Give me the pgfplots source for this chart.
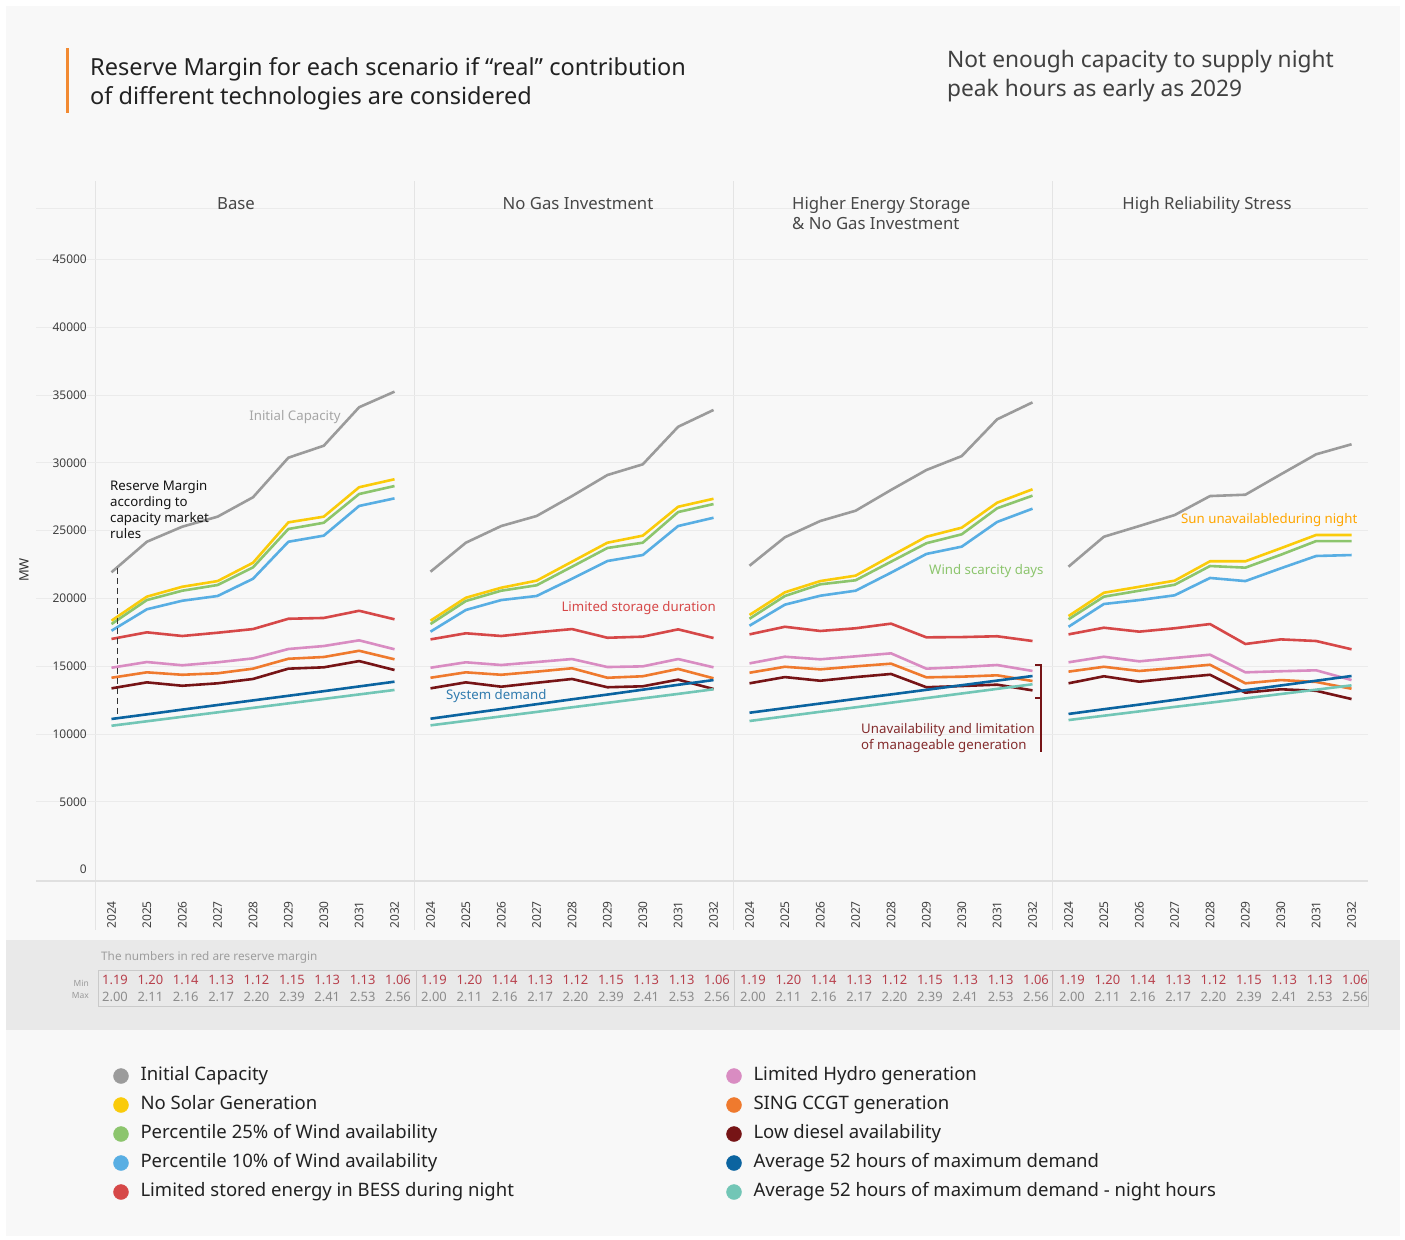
\documentclass[border=0pt]{standalone}
\usepackage{pgfplots}
\pgfplotsset{compat=1.18}
\usepackage{pgfplotstable}
\usepackage{fontspec}
\setmainfont{Noto Sans}

\definecolor{cIC}{HTML}{9B9B9B}
\definecolor{cNS}{HTML}{FACB0A}
\definecolor{cP25}{HTML}{8CC56D}
\definecolor{cP10}{HTML}{58AEE3}
\definecolor{cBESS}{HTML}{D64848}
\definecolor{cHyd}{HTML}{D98CC2}
\definecolor{cCCGT}{HTML}{EF7A2E}
\definecolor{cDie}{HTML}{761416}
\definecolor{cDem}{HTML}{0B64A0}
\definecolor{cNight}{HTML}{72C6B6}
\definecolor{bgc}{HTML}{F8F8F8}
\definecolor{bandc}{HTML}{E9E9E9}
\definecolor{gridc}{HTML}{EBEBEB}
\definecolor{sepc}{HTML}{E4E4E4}
\definecolor{basec}{HTML}{E0E0E0}
\definecolor{tablec}{HTML}{CACACA}
\definecolor{redn}{HTML}{B8404C}
\definecolor{grayn}{HTML}{8C8C8C}
\definecolor{titc}{HTML}{222222}
\definecolor{orbar}{HTML}{F28A32}

% year ic ns p25 p10 bess hydro ccgt diesel dem night
\pgfplotstableread{
year ic ns p25 p10 bess hydro ccgt diesel dem night
2024 21930 18360 18110 17620 17010 14890 14150 13370 11110 10610
2025 24180 20130 19880 19200 17500 15310 14550 13810 11450 10940
2026 25290 20860 20570 19830 17230 15070 14370 13560 11800 11270
2027 26030 21280 20990 20180 17470 15290 14480 13740 12140 11600
2028 27460 22630 22290 21450 17740 15580 14820 14060 12480 11930
2029 30380 25610 25120 24180 18500 16270 15550 14820 12820 12260
2030 31260 26030 25580 24630 18560 16490 15680 14920 13160 12590
2031 34100 28200 27700 26820 19090 16910 16140 15380 13510 12920
2032 35250 28790 28290 27380 18460 16250 15510 14720 13860 13250
}\tA
\pgfplotstableread{
year ic ns p25 p10 bess hydro ccgt diesel dem night
2024 21970 18360 18110 17550 16980 14890 14150 13370 11130 10640
2025 24110 20050 19810 19150 17430 15290 14550 13810 11490 10970
2026 25340 20790 20570 19880 17230 15090 14370 13490 11840 11300
2027 26080 21310 20970 20180 17500 15310 14600 13780 12200 11630
2028 27550 22710 22340 21450 17740 15530 14850 14060 12560 11970
2029 29100 24110 23720 22760 17100 14940 14150 13450 12910 12300
2030 29890 24630 24110 23200 17180 14990 14260 13520 13270 12630
2031 32660 26760 26370 25340 17720 15530 14800 14010 13630 12960
2032 33900 27350 26960 25950 17080 14920 14110 13320 13980 13300
}\tB
\pgfplotstableread{
year ic ns p25 p10 bess hydro ccgt diesel dem night
2024 22410 18780 18500 17990 17350 15210 14520 13740 11570 10960
2025 24510 20450 20180 19540 17910 15700 14960 14200 11910 11300
2026 25710 21280 21040 20200 17600 15510 14770 13930 12250 11640
2027 26470 21680 21340 20570 17800 15730 14990 14200 12590 11970
2028 28000 23130 22710 21900 18140 15950 15190 14430 12920 12310
2029 29470 24550 24070 23280 17130 14820 14180 13450 13260 12650
2030 30500 25220 24730 23820 17150 14940 14230 13540 13600 12990
2031 33210 27060 26650 25640 17210 15090 14330 13640 13940 13330
2032 34460 28050 27580 26620 16860 14650 13910 13220 14280 13670
}\tC
\pgfplotstableread{
year ic ns p25 p10 bess hydro ccgt diesel dem night
2024 22340 18700 18460 17910 17350 15290 14600 13740 11480 11030
2025 24550 20420 20130 19590 17840 15700 14960 14260 11830 11350
2026 25340 20860 20570 19880 17550 15360 14650 13860 12170 11670
2027 26150 21310 21010 20230 17800 15610 14870 14130 12520 12000
2028 27550 22740 22390 21510 18110 15850 15110 14370 12880 12310
2029 27650 22740 22270 21280 16640 14550 13740 13050 13230 12630
2030 29150 23700 23220 22220 16980 14630 13980 13300 13580 12950
2031 30630 24680 24230 23130 16860 14700 13840 13190 13930 13270
2032 31370 24680 24230 23200 16250 13980 13340 12580 14280 13590
}\tD

\pgfplotsset{
  panel/.style={
    anchor=south west, width=319bp, height=673bp, scale only axis,
    xmin=2023.534, xmax=2032.551, ymin=-841, ymax=48793,
    axis line style={draw=none}, major tick length=0pt,
    xtick={2024,...,2032}, ytick=\empty,
    xticklabel style={rotate=90, anchor=east, inner xsep=20bp, inner ysep=0pt,
      font=\fontsize{12}{12}\selectfont, text=black!75},
    /pgf/number format/1000 sep={}, /pgf/number format/assume math mode=true,
    clip=false,
    every axis plot/.append style={line width=2.6bp, line join=round, no markers}
  }
}
\newcommand{\plotall}[1]{%
  \addplot[cIC] table[x=year,y=ic]{#1};
  \addplot[cNS] table[x=year,y=ns]{#1};
  \addplot[cP25] table[x=year,y=p25]{#1};
  \addplot[cP10] table[x=year,y=p10]{#1};
  \addplot[cBESS] table[x=year,y=bess]{#1};
  \addplot[cHyd] table[x=year,y=hydro]{#1};
  \addplot[cCCGT] table[x=year,y=ccgt]{#1};
  \addplot[cDie] table[x=year,y=diesel]{#1};
  \addplot[cDem] table[x=year,y=dem]{#1};
  \addplot[cNight] table[x=year,y=night]{#1};
}

\begin{document}
\begin{tikzpicture}
\begin{scope}[x=1bp,y=-1bp]
\fill[white] (0,0) rectangle (1405,1239);
\fill[bgc] (6,6) rectangle (1400,1236);
\fill[bandc] (6,940) rectangle (1400,1030);
\foreach \x in {95,414,733,1052} \draw[sepc, line width=1bp] (\x,181) -- (\x,930);
\draw[gridc, line width=1bp] (36,208) -- (1368,208);
\draw[basec, line width=1.5bp] (36,881) -- (1368,881);
\end{scope}

% background axis: gridlines, y labels, legend
\begin{axis}[at={(36bp,-881bp)}, anchor=south west, width=1332bp, height=673bp, scale only axis,
  xmin=0, xmax=1, ymin=-841, ymax=48793,
  axis line style={draw=none}, major tick length=0pt,
  xtick=\empty, ytick={5000,10000,...,45000},
  extra y ticks={0}, extra y tick style={grid=none},
  scaled y ticks=false,
  ymajorgrids, grid style={color=gridc, line width=1bp},
  yticklabel style={anchor=east, inner sep=0pt, xshift=51bp, font=\fontsize{12}{13}\selectfont, text=black!75},
  /pgf/number format/1000 sep={}, /pgf/number format/assume math mode=true,
  legend columns=2, legend cell align=left,
  legend style={at={(0.05818,-0.27786)}, anchor=north west, draw=none, fill=none,
    inner sep=0pt, outer sep=0pt, row sep=13bp, column sep=0pt,
    font=\fontsize{18.6}{21}\selectfont, text=titc,
    nodes={inner xsep=12bp, inner ysep=0pt, text height=12.5bp, text depth=3.5bp}},
]
\addlegendimage{only marks, mark=*, mark size=7.5bp, color=cIC}
\addlegendentry{\makebox[574bp][l]{Initial Capacity}}
\addlegendimage{only marks, mark=*, mark size=7.5bp, color=cHyd}
\addlegendentry{Limited Hydro generation}
\addlegendimage{only marks, mark=*, mark size=7.5bp, color=cNS}
\addlegendentry{\makebox[574bp][l]{No Solar Generation}}
\addlegendimage{only marks, mark=*, mark size=7.5bp, color=cCCGT}
\addlegendentry{SING CCGT generation}
\addlegendimage{only marks, mark=*, mark size=7.5bp, color=cP25}
\addlegendentry{\makebox[574bp][l]{Percentile 25\% of Wind availability}}
\addlegendimage{only marks, mark=*, mark size=7.5bp, color=cDie}
\addlegendentry{Low diesel availability}
\addlegendimage{only marks, mark=*, mark size=7.5bp, color=cP10}
\addlegendentry{\makebox[574bp][l]{Percentile 10\% of Wind availability}}
\addlegendimage{only marks, mark=*, mark size=7.5bp, color=cDem}
\addlegendentry{Average 52 hours of maximum demand}
\addlegendimage{only marks, mark=*, mark size=7.5bp, color=cBESS}
\addlegendentry{\makebox[574bp][l]{Limited stored energy in BESS during night}}
\addlegendimage{only marks, mark=*, mark size=7.5bp, color=cNight}
\addlegendentry{Average 52 hours of maximum demand - night hours}
\end{axis}

\begin{axis}[panel, at={(95bp,-881bp)}]
\plotall{\tA}
\draw[black!80, line width=1.8bp, dash pattern=on 6bp off 4bp] (axis cs:2024.17,22250) -- (axis cs:2024.17,11260);
\end{axis}
\begin{axis}[panel, at={(414bp,-881bp)}]
\plotall{\tB}
\end{axis}
\begin{axis}[panel, at={(733bp,-881bp)}]
\plotall{\tC}
\end{axis}
\begin{axis}[panel, at={(1052bp,-881bp)}]
\plotall{\tD}
\end{axis}

\begin{scope}[x=1bp,y=-1bp]
% title
\fill[orbar] (66,48) rectangle (69,113);
\node[anchor=base west, inner sep=0pt, font=\fontsize{23.6}{27}\selectfont, text=titc] at (90,75) {Reserve Margin for each scenario if “real” contribution};
\node[anchor=base west, inner sep=0pt, font=\fontsize{23.6}{27}\selectfont, text=titc] at (90,104) {of different technologies are considered};
\node[anchor=base west, inner sep=0pt, font=\fontsize{22.8}{26}\selectfont, text=black!75] at (947,67) {Not enough capacity to supply night};
\node[anchor=base west, inner sep=0pt, font=\fontsize{22.8}{26}\selectfont, text=black!75] at (947,96) {peak hours as early as 2029};
% panel titles
\begin{scope}[every node/.style={inner sep=0pt, font=\fontsize{16.8}{19}\selectfont, text=black!72}]
\node[anchor=base] at (236,209) {Base};
\node[anchor=base] at (578,209) {No Gas Investment};
\node[anchor=base west] at (792,209) {Higher Energy Storage};
\node[anchor=base west] at (792,229) {\& No Gas Investment};
\node[anchor=base] at (1207,209) {High Reliability Stress};
\end{scope}
% axis title
\node[rotate=90, font=\fontsize{13}{14}\selectfont, text=black!80] at (24,570) {MW};
% annotations
\begin{scope}[every node/.style={inner sep=0pt, font=\fontsize{13.3}{15}\selectfont}]
\node[anchor=base, text=black!35] at (295,420.6) {Initial Capacity};
\node[anchor=base west, text=black!92] at (110,490.6) {Reserve Margin};
\node[anchor=base west, text=black!92] at (110,506.6) {according to};
\node[anchor=base west, text=black!92] at (110,522.6) {capacity market};
\node[anchor=base west, text=black!92] at (110,538.6) {rules};
\node[anchor=base east, text=cBESS] at (716,611.6) {Limited storage duration};
\node[anchor=base west, text=cDem!85!white] at (446,699.6) {System demand};
\node[anchor=base west, text=cP25] at (929,574.6) {Wind scarcity days};
\node[anchor=base west, text=cDie!90!white] at (861,733.6) {Unavailability and limitation};
\node[anchor=base west, text=cDie!90!white] at (861,749.6) {of manageable generation};
\node[anchor=base west, text=orange!70!yellow] at (1181,523.6) {Sun unavailableduring night};
\end{scope}
\draw[cDie, line width=1.8bp] (1035,665) -- (1041,665) -- (1041,752);
\draw[cDie, line width=1.8bp] (1035,698) -- (1041,698);
% table
\node[anchor=base west, inner sep=0pt, font=\fontsize{11.8}{12}\selectfont, text=black!38] at (101,960) {The numbers in red are reserve margin};
\draw[tablec, line width=1bp] (98,970) rectangle (1368,1006);
\foreach \x in {416,734,1052} \draw[tablec, line width=1bp] (\x,970) -- (\x,1006);
\node[anchor=base east, inner sep=0pt, font=\fontsize{8.5}{9}\selectfont, text=black!40] at (89,986.5) {Min};
\node[anchor=base east, inner sep=0pt, font=\fontsize{8.5}{9}\selectfont, text=black!40] at (89,998) {Max};
\foreach \p in {0,1,2,3} {
  \foreach \a/\b [count=\i from 0] in {1.19/2.00,1.20/2.11,1.14/2.16,1.13/2.17,1.12/2.20,1.15/2.39,1.13/2.41,1.13/2.53,1.06/2.56} {
    \node[anchor=base, inner sep=0pt, font=\fontsize{13}{14}\selectfont, text=redn] at ({115+35.375*\i+319*\p},984.5) {\a};
    \node[anchor=base, inner sep=0pt, font=\fontsize{13}{14}\selectfont, text=grayn] at ({115+35.375*\i+319*\p},1001.5) {\b};
  }
}
\end{scope}
\end{tikzpicture}
\end{document}
